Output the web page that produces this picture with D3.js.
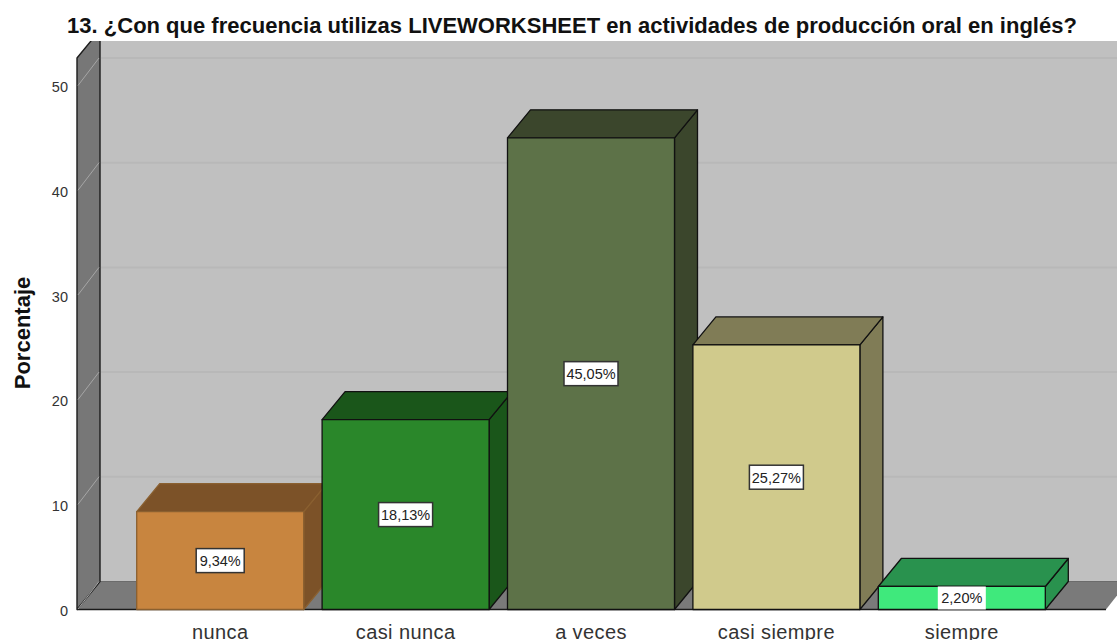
<!DOCTYPE html>
<html><head><meta charset="utf-8">
<script src="https://cdn.jsdelivr.net/npm/d3@7"></script>
<style>html,body{margin:0;padding:0;background:#fff;overflow:hidden}svg{display:block}text{font-family:"Liberation Sans",Arial,sans-serif}</style>
</head><body><svg id="c" width="1117" height="640"></svg>
<script>
const titleText = "13. ¿Con que frecuencia utilizas LIVEWORKSHEET en actividades de producción oral en inglés?";
const yTitle = "Porcentaje";
const categories = ["nunca","casi nunca","a veces","casi siempre","siempre"];
const values = [9.34,18.13,45.05,25.27,2.20];
const labels = ["9,34%","18,13%","45,05%","25,27%","2,20%"];
const frontColors = ["#c8853f","#2a872a","#5d7248","#d0ca8c","#3fe97c"];
const sideColors = ["#7c5228","#1a561a","#3b462c","#807c56","#29924e"];
const edgeColors = ["#8a6030","#111","#111","#111","#111"];
const yTicks = [0,10,20,30,40,50];

const svg = d3.select("#c");
const W = 1117, H = 640, dx = 23, dy = -28;
const y = d3.scaleLinear().domain([0,50]).range([609.5,86]);
const x = d3.scaleBand().domain(categories).range([127.5,1054.5]).paddingInner(0.1).paddingOuter(0.05);
const bw = 167;
const cx = c => x(c)+x.bandwidth()/2;
const topY = 41;
const wallL = 77, floorR = 1106, y0 = y(0);
const line = d3.line();

svg.append("defs").append("clipPath").attr("id","plot").append("rect")
  .attr("x",0).attr("y",topY).attr("width",W).attr("height",H-topY);
const g = svg.append("g").attr("clip-path","url(#plot)");

// back wall
g.append("rect").attr("x",wallL+dx).attr("y",topY).attr("width",W-wallL-dx).attr("height",y0+dy-topY).attr("fill","#c0c0c0");
// floor
g.append("path").attr("d",line([[wallL,y0],[wallL+dx,y0+dy],[W,y0+dy],[W,y0-14],[floorR,y0]])+"Z").attr("fill","#7a7a7a");
g.append("path").attr("d",line([[wallL+dx,y0+dy],[W,y0+dy]])).attr("stroke","#6b6b6b").attr("stroke-width",1);
g.append("path").attr("d",line([[wallL,y0],[floorR,y0]])).attr("stroke","#1a1a1a").attr("stroke-width",1.5);
// left wall
g.append("path").attr("d",line([[wallL,y(50)+dy],[wallL+dx,y(50)+2*dy],[wallL+dx,y0+dy],[wallL,y0]])+"Z")
  .attr("fill","#777").attr("stroke","#1c1c1c").attr("stroke-width",1.4).attr("stroke-linejoin","round");
// grid lines
yTicks.forEach(t=>{
  if(t>0){
    g.append("path").attr("d",line([[wallL+dx+1,y(t)+dy],[W,y(t)+dy]])).attr("stroke","#b8b8b8").attr("stroke-width",2);
  }
  g.append("path").attr("d",line([[wallL+1,y(t)-0.5],[wallL+dx-1,y(t)+dy]])).attr("stroke","#a6a6a6").attr("stroke-width",1);
});

// bars
const bars = g.selectAll("g.bar").data(categories).join("g").attr("class","bar");
bars.each(function(c,i){
  const s = d3.select(this), l = x(c)+(x.bandwidth()-bw)/2, r = l+bw, t = y(values[i]), e = edgeColors[i];
  const base = {stroke:e,"stroke-width":1.3,"stroke-linejoin":"round"};
  const add = (pts,f)=>{const p=s.append("path").attr("d",line(pts)+"Z").attr("fill",f);Object.entries(base).forEach(([k,v])=>p.attr(k,v));};
  add([[r,y0],[r+dx,y0+dy],[r+dx,t+dy],[r,t]],sideColors[i]);
  add([[l,t],[l+dx,t+dy],[r+dx,t+dy],[r,t]],sideColors[i]);
  add([[l,t],[r,t],[r,y0],[l,y0]],frontColors[i]);
});

// value labels
categories.forEach((c,i)=>{
  const t = y(values[i]), cy = (t+y0)/2, w = labels[i].length>5?54:48;
  const h = Math.min(24, y0-t);
  svg.append("rect").attr("x",cx(c)-w/2).attr("y",cy-h/2).attr("width",w).attr("height",h)
    .attr("fill","#fff").attr("stroke",i===4?"none":"#333").attr("stroke-width",1.5);
  svg.append("text").attr("x",cx(c)).attr("y",cy+5.5).attr("text-anchor","middle")
    .attr("font-size",14.5).attr("fill","#222").text(labels[i]);
});

// axes
const yAxis = d3.axisLeft(y).tickValues(yTicks).tickSize(0).tickPadding(9);
const ya = svg.append("g").attr("transform",`translate(${wallL},1)`).call(yAxis);
ya.select(".domain").remove();
ya.selectAll("text").attr("font-size",14.5).attr("fill","#333").style("font-family",'"Liberation Sans",Arial,sans-serif');

const xAxis = d3.axisBottom(x).tickSize(0).tickPadding(15);
const xa = svg.append("g").attr("transform",`translate(0,${y0})`).call(xAxis);
xa.select(".domain").remove();
xa.selectAll("text").attr("font-size",20).attr("fill","#333").style("font-family",'"Liberation Sans",Arial,sans-serif').attr("letter-spacing",0.4);

// titles
svg.append("text").attr("x",572).attr("y",33).attr("text-anchor","middle").attr("font-size",22).attr("font-weight","bold").attr("fill","#111").text(titleText);
svg.append("text").attr("transform","translate(30,333) rotate(-90)").attr("text-anchor","middle").attr("font-size",22).attr("font-weight","bold").attr("fill","#111").text(yTitle);
</script></body></html>
